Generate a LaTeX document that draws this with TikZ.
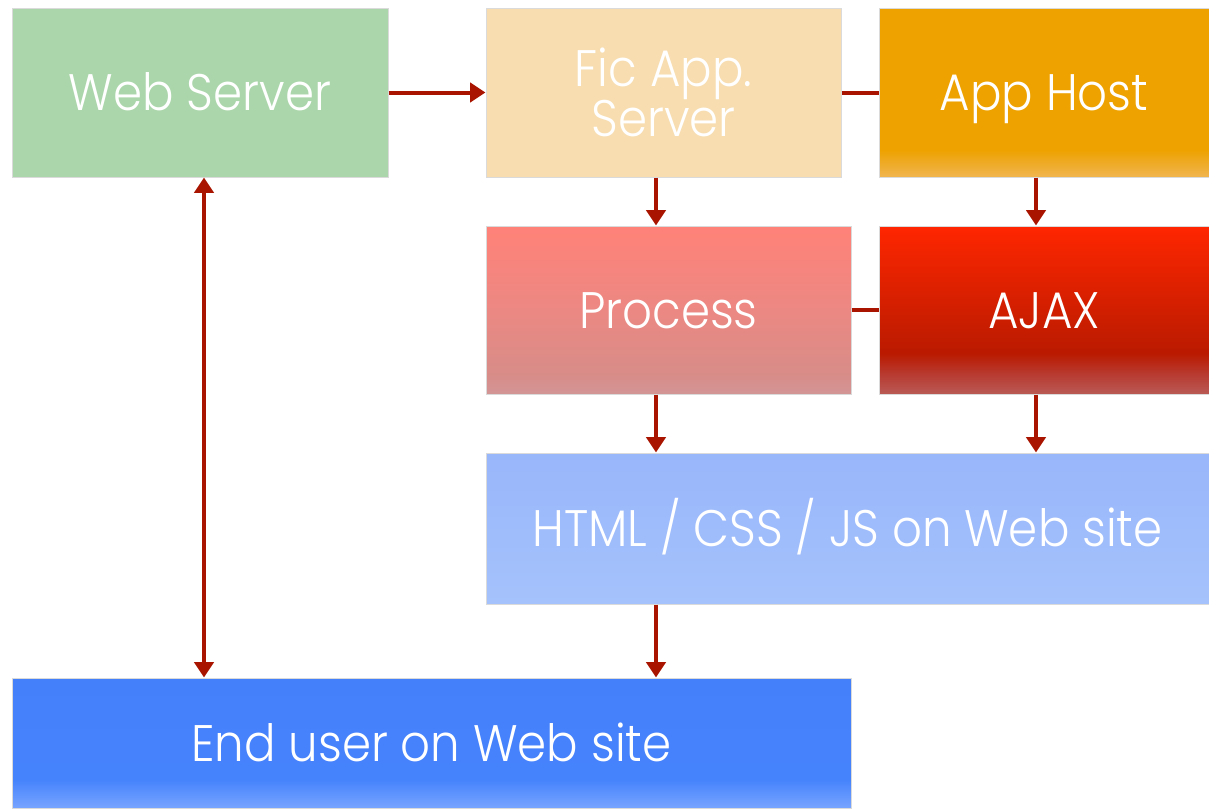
\documentclass[tikz,border=0pt]{standalone}
\usepackage{fontspec}
\setmainfont{Poppins}[UprightFont=* Light, FakeStretch=0.91]
\usetikzlibrary{arrows.meta}
\definecolor{arr}{HTML}{A81400}
\definecolor{webc}{HTML}{ABD6AB}
\definecolor{ficc}{HTML}{F7DDB0}
\definecolor{edgec}{HTML}{DADADA}
\definecolor{ahT}{HTML}{EEA200}
\definecolor{ahB}{HTML}{F0B550}
\definecolor{ajT}{HTML}{FF2600}
\definecolor{ajM}{HTML}{DA2000}
\definecolor{ajD}{HTML}{BA1A00}
\definecolor{ajL}{HTML}{B83A30}
\definecolor{ajB}{HTML}{B95A55}
\definecolor{prT}{HTML}{FF8278}
\definecolor{prM}{HTML}{EC8883}
\definecolor{prD}{HTML}{D88C88}
\definecolor{prB}{HTML}{D39595}
\definecolor{htT}{HTML}{98B6FA}
\definecolor{htB}{HTML}{A5C2FC}
\definecolor{euT}{HTML}{4480FA}
\definecolor{euD}{HTML}{4583FC}
\definecolor{euB}{HTML}{78A4FF}
\pgfdeclareverticalshading{ajaxsh}{100bp}{color(0bp)=(ajB); color(25bp)=(ajB); color(31bp)=(ajL); color(37bp)=(ajD); color(55bp)=(ajM); color(75bp)=(ajT); color(100bp)=(ajT)}
\pgfdeclareverticalshading{procsh}{100bp}{color(0bp)=(prB); color(25bp)=(prB); color(31bp)=(prD); color(50bp)=(prM); color(75bp)=(prT); color(100bp)=(prT)}
\pgfdeclareverticalshading{hostsh}{100bp}{color(0bp)=(ahB); color(25bp)=(ahB); color(33bp)=(ahT); color(75bp)=(ahT); color(100bp)=(ahT)}
\pgfdeclareverticalshading{htmlsh}{100bp}{color(0bp)=(htB); color(25bp)=(htB); color(75bp)=(htT); color(100bp)=(htT)}
\pgfdeclareverticalshading{usersh}{100bp}{color(0bp)=(euB); color(25bp)=(euB); color(36bp)=(euD); color(75bp)=(euT); color(100bp)=(euT)}
\tikzset{
  box/.style={draw=edgec, line width=0.75pt, rectangle, inner sep=0pt, text=white,
    font=\fontsize{38.5pt}{37.5pt}\selectfont, align=center},
  oneline/.style={text height=27pt, text depth=0pt},
  conn/.style={draw=arr, line width=3pt},
  arrow/.style={conn, -{Triangle[width=14.25pt,length=11.5pt]}},
  darrow/.style={conn, {Triangle[width=14.25pt,length=11.5pt]}-{Triangle[width=14.25pt,length=11.5pt]}}
}
\begin{document}
\begin{tikzpicture}[x=0.75pt,y=-0.75pt]
\useasboundingbox (0,0) rectangle (1209,808);
\node[box, oneline, fill=webc, minimum width=376*0.75pt, minimum height=169*0.75pt] (web) at (200,92.5) {Web Server};
\node[box, fill=ficc, minimum width=355*0.75pt, minimum height=169*0.75pt] (fic) at (663.5,92.5) {Fic App.\\Server};
\node[box, oneline, shading=hostsh, minimum width=330*0.75pt, minimum height=169*0.75pt] (host) at (1044,92.5) {App Host};
\node[box, oneline, shading=procsh, minimum width=365*0.75pt, minimum height=168*0.75pt] (proc) at (668.5,310) {Process};
\node[box, oneline, shading=ajaxsh, minimum width=330*0.75pt, minimum height=168*0.75pt] (ajax) at (1044,310) {AJAX};
\node[box, oneline, shading=htmlsh, minimum width=723*0.75pt, minimum height=151*0.75pt] (html) at (847.5,528.5) {HTML / CSS / JS on Web site};
\node[box, oneline, shading=usersh, minimum width=839*0.75pt, minimum height=130*0.75pt] (user) at (431.5,743) {End user on Web site};
\coordinate (cA) at (204,0);
\coordinate (cB) at (656,0);
\coordinate (cC) at (1036,0);
\draw[arrow] (web.east) -- (web.east -| fic.west);
\draw[conn] (fic.east) -- (fic.east -| host.west);
\draw[conn] (proc.east) -- (proc.east -| ajax.west);
\draw[arrow] (fic.south -| cB) -- (proc.north -| cB);
\draw[arrow] (host.south -| cC) -- (ajax.north -| cC);
\draw[arrow] (proc.south -| cB) -- (html.north -| cB);
\draw[arrow] (ajax.south -| cC) -- (html.north -| cC);
\draw[arrow] (html.south -| cB) -- (user.north -| cB);
\draw[darrow] (web.south -| cA) -- (user.north -| cA);
\end{tikzpicture}
\end{document}
